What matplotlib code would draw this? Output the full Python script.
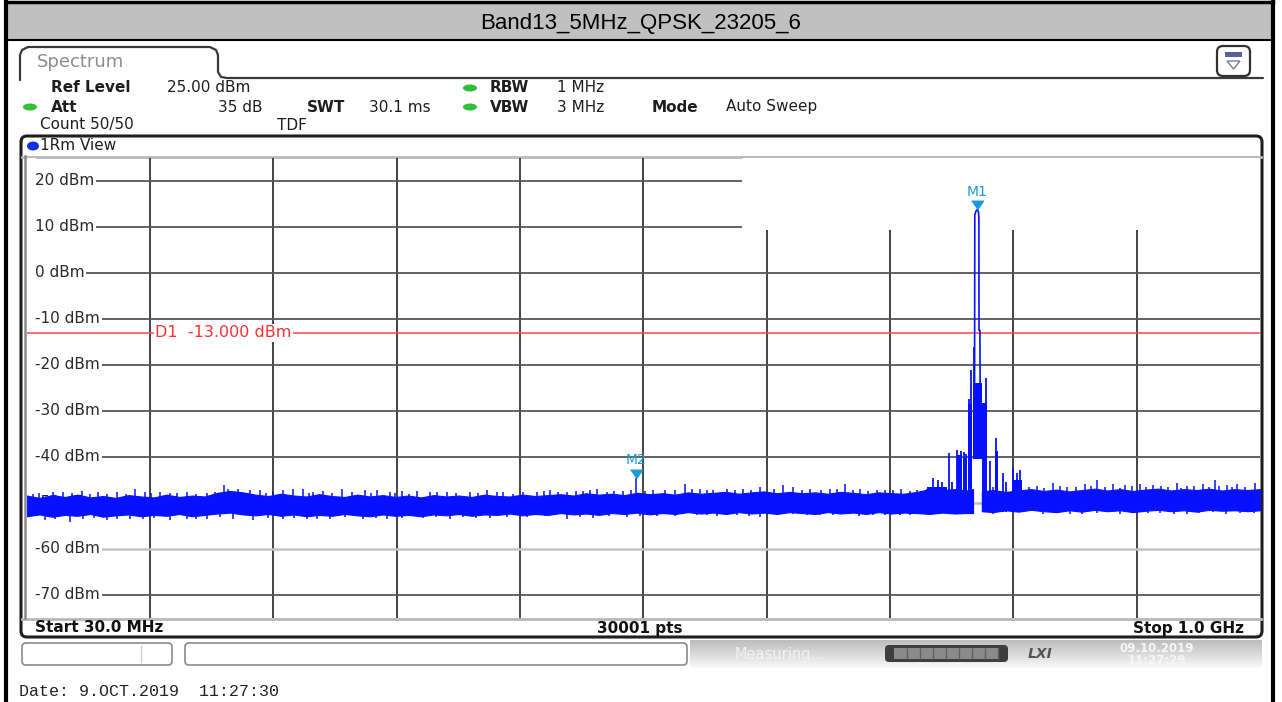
import numpy as np
import matplotlib
matplotlib.use('Agg')
import matplotlib.pyplot as plt
from matplotlib.patches import FancyBboxPatch, Rectangle, Ellipse, Polygon
import matplotlib.transforms as mtransforms

plt.rcParams['font.family'] = ['DejaVu Sans']

# sweep settings
f_start = 30.0
f_stop = 1000.0
ref_level = 25.0
y_bottom = -75.0
d1_level = -13.0
y_ticks = [20, 10, 0, -10, -20, -30, -40, -50, -60, -70]

# noise floor envelope, MHz / dBm (gap at the carrier)
band_mhz = [30, 40, 50, 60, 70, 80, 90, 100, 110, 120,
            130, 140, 150, 160, 170, 180, 190, 200, 210, 220,
            230, 240, 250, 260, 270, 280, 290, 300, 310, 320,
            330, 340, 350, 360, 370, 380, 390, 400, 410, 420,
            430, 440, 450, 460, 470, 480, 490, 500, 510, 520,
            530, 540, 550, 560, 570, 580, 590, 600, 610, 620,
            630, 640, 650, 660, 670, 680, 690, 700, 710, 720,
            730, 740, 750, 760, 770, 774.3,
            781.2, 790, 800, 810, 820, 830, 840, 850, 860, 870,
            880, 890, 900, 910, 920, 930, 940, 950, 960, 970,
            980, 990, 1000]
band_top = [-48.4, -48.9, -48.3, -48.7, -48.2, -48.8, -48.5, -48.9, -48.3, -48.6,
            -48.8, -48.2, -48.7, -48.4, -48.6, -47.8, -47.4, -47.7, -48.2, -48.5,
            -48.0, -48.4, -48.6, -48.1, -48.5, -48.7, -48.2, -48.6, -48.3, -48.7,
            -48.4, -48.8, -48.3, -48.6, -48.4, -48.7, -48.2, -48.5, -48.6, -48.2,
            -48.5, -48.3, -48.1, -48.4, -47.9, -48.2, -48.0, -48.3, -47.8, -48.1,
            -47.9, -48.2, -47.7, -48.0, -47.8, -47.6, -48.0, -47.7, -47.5, -47.9,
            -47.6, -47.9, -47.7, -48.0, -47.6, -47.8, -48.1, -47.7, -47.9, -48.0,
            -47.6, -47.0, -47.2, -47.0, -47.3, -47.0,
            -47.5, -47.2, -47.6, -47.3, -47.0, -47.4, -47.1, -47.5, -47.2, -46.9,
            -47.3, -47.0, -47.4, -47.1, -46.9, -47.3, -47.0, -47.2, -46.9, -47.3,
            -47.0, -47.2, -47.0]
band_bot = [-52.9, -52.5, -53.0, -52.6, -52.8, -52.4, -53.0, -52.7, -52.5, -52.9,
            -52.6, -52.8, -52.4, -52.9, -52.6, -52.3, -52.1, -52.5, -52.7, -52.4,
            -52.8, -52.5, -52.9, -52.6, -52.8, -52.4, -52.7, -52.9, -52.5, -52.8,
            -52.6, -52.9, -52.5, -52.7, -52.4, -52.8, -52.5, -52.6, -52.3, -52.7,
            -52.4, -52.6, -52.2, -52.5, -52.3, -52.6, -52.2, -52.4, -52.1, -52.5,
            -52.2, -52.4, -52.0, -52.3, -52.1, -52.4, -52.0, -52.3, -52.1, -52.4,
            -52.0, -52.2, -52.4, -52.0, -52.3, -52.1, -52.4, -52.0, -52.3, -52.1,
            -52.2, -52.4, -52.1, -52.3, -52.2, -52.2,
            -51.8, -52.0, -51.6, -51.9, -51.5, -51.8, -52.0, -51.6, -51.9, -51.5,
            -51.8, -51.6, -52.0, -51.7, -51.5, -51.8, -51.6, -51.9, -51.5, -51.7,
            -51.6, -51.8, -51.6]

# spikes above the floor
spike_mhz = [35.2, 40, 50.9, 58.8, 66, 73.3, 79.8, 86, 92.9, 100.8, 108, 115.2, 123,
             128, 134.8, 142.7, 148, 155.8, 163, 171.6, 178, 185.2, 188.6, 196.4,
             205.6, 213.5, 218, 224, 231.8, 239.7, 247.5, 252, 255.4, 263.3, 270,
             277.7, 286, 296.1, 301, 305.3, 315.7, 320, 324.9, 331, 336.7, 347.2,
             353, 360.3, 368, 378.7, 385, 391.8, 399.7, 405, 412.7, 420, 431.1, 437,
             441.6, 448, 454.7, 462, 467.8, 473, 478.3, 486.2, 492, 499.2, 505,
             509.083, 516, 522.8, 532, 540, 547.7, 553, 559.5, 565, 570, 580.5, 587,
             593.6, 600, 606.7, 618, 625.1, 632.9, 640, 646, 655, 661.8, 667, 673.6,
             680, 685.4, 692, 698.5, 705, 711.6, 718, 724.7, 730, 737.8,
             790, 818, 824.4, 830, 837.4, 843, 848, 855, 862.3, 867, 871.6, 878,
             884.6, 890, 893.8, 899, 905.6, 910, 916.1, 922, 928, 934.5, 938, 942.3,
             948, 955.4, 960, 964.6, 968, 973.8, 978, 981.7, 988, 996]
spike_dbm = [-48.0, -47.9, -47.6, -47.6, -47.8, -47.4, -48.0, -47.7, -48.0, -47.6,
             -48.0, -46.9, -47.6, -47.8, -47.6, -47.8, -47.9, -47.6, -48.0, -47.8,
             -47.7, -46.2, -46.9, -46.9, -47.2, -47.2, -47.8, -47.6, -47.2, -46.9,
             -46.9, -47.9, -47.6, -47.4, -47.8, -46.9, -47.7, -47.2, -47.9, -47.1,
             -47.6, -47.8, -47.4, -48.0, -47.4, -47.6, -47.7, -47.6, -47.9, -47.6,
             -47.8, -47.2, -47.6, -47.6, -48.0, -47.7, -47.6, -47.5, -47.2, -47.6,
             -47.6, -47.5, -47.4, -47.3, -46.9, -47.6, -47.4, -47.4, -47.3, -44.55,
             -47.5, -47.2, -47.1, -47.2, -45.8, -47.0, -46.9, -47.3, -47.1, -46.9,
             -47.1, -46.9, -47.2, -46.5, -47.0, -46.2, -46.5, -47.1, -46.9, -47.3,
             -46.9, -47.0, -45.9, -47.2, -46.9, -47.4, -47.2, -47.1, -47.2, -46.9,
             -47.4, -47.2, -46.9,
             -46.6, -46.5, -46.4, -46.7, -45.7, -46.4, -46.5, -46.6, -45.9, -46.3,
             -45.1, -46.5, -45.8, -46.7, -46.2, -46.4, -45.9, -46.6, -46.2, -46.4,
             -46.5, -45.7, -46.7, -46.4, -46.3, -45.8, -46.6, -45.1, -46.4, -46.2,
             -46.5, -45.9, -46.6, -45.7]

# dips below the floor
dip_mhz = [44.4, 52, 64.1, 74.5, 83, 92.9, 101, 111.2, 121.7, 130, 142.7, 155.8,
           163, 171.6, 182, 192.5, 208.2, 220, 231.8, 240, 250.2, 258, 268.5, 280,
           294.7, 305, 313.1, 325, 341.9, 352, 362.9, 373, 383, 394.4, 408, 423.2,
           438, 454.7, 465, 475.6, 488, 501.9, 512, 525.5, 540, 556.9, 565, 572.7,
           588.4, 598, 606.7, 620, 632.9, 644, 653.9, 664, 674.9, 685, 695.9, 705,
           716.8, 725, 735.2, 790, 829.6, 840, 850.6, 860, 871.6, 890, 900.4, 912,
           921.3, 932, 942.3, 952, 963.3, 973, 984.3, 995]
dip_dbm = [-53.8, -53.4, -54.1, -53.4, -53.3, -53.8, -53.5, -53.6, -53.4, -53.2,
           -53.8, -53.6, -53.4, -53.4, -53.0, -53.6, -53.8, -53.2, -53.4, -53.3,
           -53.6, -53.4, -53.4, -53.1, -53.6, -53.2, -53.4, -53.3, -53.2, -53.1,
           -53.4, -53.0, -53.3, -53.2, -53.1, -53.0, -52.9, -53.6, -53.0, -53.2,
           -52.8, -53.0, -52.9, -52.9, -52.8, -52.6, -52.7, -52.9, -52.7, -52.8,
           -53.1, -52.6, -52.4, -52.7, -52.6, -52.6, -52.2, -52.8, -52.7, -52.6,
           -52.6, -52.7, -52.4, -52.3, -52.3, -52.2, -52.5, -52.4, -52.1, -52.3,
           -51.9, -52.1, -52.1, -52.4, -52.4, -52.2, -52.0, -52.3, -52.1, -52.2]

# emission around the carrier: solid blocks
blk_f0 = [738, 761.3, 766.4, 770.2, 774.4, 781.2, 791.6, 805.5]
blk_f1 = [754, 765.6, 769.8, 773.8, 781.0, 785.4, 793.6, 813.0]
blk_lo = [-51.9, -52.0, -52.0, -52.0, -40.5, -52.0, -52.0, -51.5]
blk_hi = [-46.6, -39.6, -40.2, -28.5, -24.0, -28.2, -38.8, -45.0]

# emission around the carrier: single lines
clus_mhz = [742.6, 746.6, 749.5, 755.6, 757.6, 761.8, 764.8, 767.4, 769.0, 771.0,
            772.5, 774.8, 784.6, 787.5, 792.3, 797.6, 800.5, 806.0, 808.8, 811.5]
clus_lo = [-51, -51, -51, -51.5, -51.5, -52, -52, -52, -52, -52,
           -52, -40.5, -52, -52, -52, -52, -52, -52, -52, -52]
clus_hi = [-44.6, -45.0, -45.5, -39.2, -45.5, -38.6, -38.8, -38.9, -39.4, -27.5,
           -21.2, -16.1, -22.9, -41.0, -35.9, -43.5, -45.5, -42.5, -43.5, -42.8]

# carrier peak outline
peak_mhz = [775.5, 775.7, 776.6, 777.7, 778.6, 778.9, 779.0, 779.7, 779.9, 780.3]
peak_dbm = [-24.0, 12.6, 13.4, 13.74, 13.2, 12.0, -12.5, -12.5, -25.0, -40.0]

# markers
mk_name = ['M1', 'M2']
mk_mhz = [777.7, 509.083]
mk_dbm = [13.74, -44.55]

BLUE = '#0612ff'
MK = '#1c9ad8'
W, H = 1282, 702

fig = plt.figure(figsize=(W / 100, H / 100), dpi=100)
fig.patch.set_facecolor('white')

# ---- background layer in pixel coordinates
bg = fig.add_axes([0, 0, 1, 1])
bg.set_xlim(0, W)
bg.set_ylim(H, 0)
bg.axis('off')

# title bar + outer frame
bg.add_patch(Rectangle((6, 3), 1267, 37, fc='#c0c0c0', ec='none'))
bg.plot([6, 1273], [2, 2], color='black', lw=2.5)
bg.plot([6, 1273], [40, 40], color='black', lw=1.5)
bg.plot([6, 6], [2, H], color='black', lw=3)
bg.plot([1273, 1273], [2, H], color='black', lw=3)
bg.text(641, 23, 'Band13_5MHz_QPSK_23205_6', ha='center', va='center',
        fontsize=16, family='Liberation Sans', color='black')

# Spectrum tab
tab_x = [20, 20, 22, 28, 210, 216, 218, 218, 221, 227, 1263]
tab_y = [80, 55, 50, 47, 47, 50, 55, 72, 77, 78, 78]
bg.plot(tab_x, tab_y, color='#3a3a3a', lw=1.6, solid_capstyle='round')
bg.text(37, 62, 'Spectrum', ha='left', va='center', fontsize=13, color='#8c8c8c')

# menu icon top right
bg.add_patch(FancyBboxPatch((1217, 46), 33, 30, boxstyle='round,pad=0,rounding_size=6',
                            fc='white', ec='#303030', lw=1.6))
bg.add_patch(Rectangle((1225, 52), 17, 5, fc='#56609a', ec='none'))
bg.add_patch(Polygon([(1227, 61), (1240, 61), (1233.5, 69)], closed=True,
                     fc='white', ec='#7080a8', lw=1))

# header settings
hdr = dict(fontsize=11, va='center', color='#1e1e1e')
bg.text(51, 88, 'Ref Level', fontweight='bold', **hdr)
bg.text(167, 88, '25.00 dBm', **hdr)
bg.text(490, 88, 'RBW', fontweight='bold', **hdr)
bg.text(557, 88, '1 MHz', **hdr)
bg.text(51, 107, 'Att', fontweight='bold', **hdr)
bg.text(218, 107, '35 dB', **hdr)
bg.text(307, 107, 'SWT', fontweight='bold', **hdr)
bg.text(369, 107, '30.1 ms', **hdr)
bg.text(490, 107, 'VBW', fontweight='bold', **hdr)
bg.text(557, 107, '3 MHz', **hdr)
bg.text(652, 107, 'Mode', fontweight='bold', **hdr)
bg.text(726, 107, 'Auto Sweep', **hdr)
bg.text(40, 125, 'Count 50/50', **hdr)
bg.text(277, 125, 'TDF', **hdr)
for cx, cy in [(470, 88), (30, 107), (470, 107)]:
    bg.add_patch(Ellipse((cx, cy), 14, 7, fc='#2fbf3a', ec='none'))

# trace panel
bg.add_patch(FancyBboxPatch((21, 136), 1241, 501, boxstyle='round,pad=0,rounding_size=6',
                            fc='white', ec='#1e1e1e', lw=2.2))
bg.plot([22, 1261], [156.5, 156.5], color='#b8b8b8', lw=2)
bg.plot([22, 1261], [618.5, 618.5], color='#b8b8b8', lw=2)
bg.plot([24.5, 24.5], [156, 618], color='#8a8a8a', lw=1.8)
bg.add_patch(Ellipse((33, 146), 12, 9, fc='#1030e0', ec='none'))
bg.text(40, 146, '1Rm View', fontsize=11, va='center', color='#1e1e1e')

# bottom bar of panel
bbar = dict(fontsize=11, fontweight='bold', va='center', color='#111111')
bg.text(35, 628, 'Start 30.0 MHz', ha='left', **bbar)
bg.text(640, 628, '30001 pts', ha='center', **bbar)
bg.text(1244, 628, 'Stop 1.0 GHz', ha='right', **bbar)

# status bar
bg.add_patch(FancyBboxPatch((22, 643), 150, 22, boxstyle='round,pad=0,rounding_size=4',
                            fc='white', ec='#8a8a8a', lw=1.2))
bg.plot([141, 141], [646, 662], color='#d0d0d0', lw=1)
bg.add_patch(FancyBboxPatch((185, 643), 502, 22, boxstyle='round,pad=0,rounding_size=4',
                            fc='white', ec='#8a8a8a', lw=1.2))
grad = np.linspace(0.74, 0.97, 30)[:, None]
bg.imshow(grad, cmap='gray', vmin=0, vmax=1, extent=(690, 1262, 668, 640),
          aspect='auto', zorder=1)
bg.text(780, 654, 'Measuring...', ha='center', va='center', fontsize=10.5,
        color='#f2f2f2', zorder=2)
bg.add_patch(FancyBboxPatch((885, 645), 123, 17, boxstyle='round,pad=0,rounding_size=4',
                            fc='#3e3e3e', ec='none', zorder=2))
bg.add_patch(Rectangle((894, 648), 105, 11, fc='#8a8a8a', ec='none', zorder=3))
bg.vlines(np.arange(907, 999, 13), 648, 659, color='#606060', lw=1, zorder=4)
bg.text(1040, 654, 'LXI', ha='center', va='center', fontsize=10, fontweight='bold',
        fontstyle='italic', color='#555555', zorder=2)
bg.text(1157, 649, '09.10.2019', ha='center', va='center', fontsize=8.5,
        fontweight='bold', color='#f6f6f6', zorder=2)
bg.text(1157, 661, '11:27:29', ha='center', va='center', fontsize=8.5,
        fontweight='bold', color='#f6f6f6', zorder=2)

bg.text(19, 691, 'Date: 9.OCT.2019  11:27:30', ha='left', va='center',
        fontsize=12, family='Liberation Mono', color='#222222')

# marker readout
rd = dict(fontsize=11.5, va='center', color=MK)
for i, name in enumerate(mk_name):
    yy = 167 + 37 * i
    bg.text(745, yy, f'{name}[1]', ha='left', **rd)
    bg.text(1257, yy, f'{mk_dbm[i]:.2f} dBm', ha='right', **rd)
    bg.text(1257, yy + 18, f'{mk_mhz[i]:.4f} MHz', ha='right', **rd)

# ---- trace diagram
ax = fig.add_axes([26.7 / W, (H - 618) / H, 1233.3 / W, (618 - 157.7) / H])
ax.set_xlim(f_start, f_stop)
ax.set_ylim(y_bottom, ref_level)
ax.axis('off')

vgrid = np.linspace(f_start, f_stop, 11)[1:-1]
ax.vlines(vgrid, y_bottom, ref_level, color='#111111', lw=1.1, zorder=1)
for lvl in y_ticks:
    light = lvl in (-50, -60)
    ax.axhline(lvl, color='#c4c4c4' if light else '#555555', lw=1.8 if light else 1.3,
               zorder=1.1)
    box = None if lvl == -50 else dict(fc='white', ec='none', pad=1.2)
    ax.text(0.0068, lvl, f'{lvl} dBm', transform=ax.get_yaxis_transform(),
            ha='left', va='center', fontsize=11, color='#2a2a2a', zorder=2.5, bbox=box)
# grid lines start only after the level labels
ax.add_patch(Rectangle((0, 0), 0.0075, 1, transform=ax.transAxes,
                       fc='white', ec='none', zorder=1.5))

# area reserved for the marker readout
ax.add_patch(Rectangle((0.58, 0.843), 0.42, 0.157, transform=ax.transAxes,
                       fc='white', ec='none', zorder=2))

ax.axhline(d1_level, color='#ff4848', lw=1.1, zorder=2.2)
ax.text(0.104, d1_level, f'D1  {d1_level:.3f} dBm', transform=ax.get_yaxis_transform(),
        ha='left', va='center', fontsize=11.5, color='#ff3030', zorder=2.6,
        bbox=dict(fc='white', ec='none', pad=1.0))

band_mhz = np.array(band_mhz)
band_top = np.array(band_top)
band_bot = np.array(band_bot)
for part in (band_mhz < mk_mhz[0], band_mhz > mk_mhz[0]):
    ax.fill_between(band_mhz[part], band_bot[part], band_top[part], color=BLUE,
                    lw=0.8, edgecolor=BLUE, zorder=3)
ax.vlines(spike_mhz, -50, spike_dbm, color=BLUE, lw=1.1, zorder=3)
ax.vlines(dip_mhz, dip_dbm, -50, color=BLUE, lw=1.1, zorder=3)

ax.bar(blk_f0, np.array(blk_hi) - np.array(blk_lo), width=np.array(blk_f1) - np.array(blk_f0),
       bottom=blk_lo, align='edge', color=BLUE, lw=0, zorder=3)
ax.vlines(clus_mhz, clus_lo, clus_hi, color=BLUE, lw=1.3, zorder=3)
ax.plot(peak_mhz, peak_dbm, color=BLUE, lw=1.2, zorder=3.1)

# marker symbols
tri = [(-1.4, 1), (1.4, 1), (0, -1)]
off = mtransforms.offset_copy(ax.transData, fig=fig, x=0, y=3.1, units='points')
ax.plot(mk_mhz, mk_dbm, ls='none', marker=tri, ms=8.6, color=MK, transform=off,
        zorder=4, clip_on=False)
for name, f, d in zip(mk_name, mk_mhz, mk_dbm):
    ax.annotate(name, (f, d), xytext=(0, 12.5), textcoords='offset points',
                ha='center', va='center', fontsize=10, color=MK, zorder=4)

fig.savefig('out.png', dpi=100)
